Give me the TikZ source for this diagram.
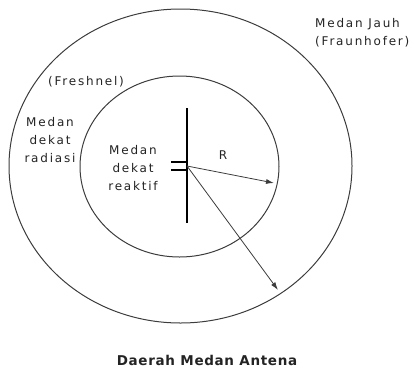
\documentclass[tikz,border=0pt]{standalone}
\usepackage{fontspec}
\setmainfont{DejaVu Sans}[LetterSpace=15]
\usepackage{tikz}
\usetikzlibrary{arrows.meta,positioning,shapes}
\definecolor{ringgray}{RGB}{60,60,60}
\definecolor{textgray}{RGB}{35,35,35}

\begin{document}
\begin{tikzpicture}[x=1pt, y=-1pt,
    zone/.style={ellipse, draw=ringgray, line width=1pt, inner sep=0pt},
    txt/.style={text=textgray, font=\fontsize{12}{18}\selectfont, align=center, inner sep=0pt},
    ray/.style={-{Latex[length=8pt,width=5pt]}, line width=0.8pt, draw=ringgray}]

\useasboundingbox (0,0) rectangle (414,370);

% daerah medan
\node[zone, minimum width=343pt, minimum height=314pt] (far) at (180.5,166) {};
\node[zone, minimum width=199pt, minimum height=181pt] (near) at (179.5,166.5) {};

% antena dipole
\coordinate (feed) at (187,166);
\draw[line width=1.6pt] (187,108) -- (187,223);
\draw[line width=1.4pt] (171,162) -- (187,162) (171,170) -- (187,170);

\coordinate (r1) at (274,183);
\coordinate (r2) at (278,290);
\draw[ray] (feed) -- (r1);
\draw[ray] (feed) -- (r2);

\node[txt] (rlabel) at (223,155) {R};
\node[txt] (reaktif) at (133,168) {Medan\\dekat\\reaktif};
\node[txt] (radiasi) at (50,140) {Medan\\dekat\\radiasi};
\node[txt] (fresnel) at (86,82) {(Freshnel)};
\node[txt, anchor=west, align=left] (jauh) at (315,33) {Medan Jauh\\(Fraunhofer)};

\node[txt, font=\fontsize{13.5}{18}\selectfont\bfseries\addfontfeatures{LetterSpace=5}] (title) at (207,360) {Daerah Medan Antena};

\end{tikzpicture}
\end{document}
